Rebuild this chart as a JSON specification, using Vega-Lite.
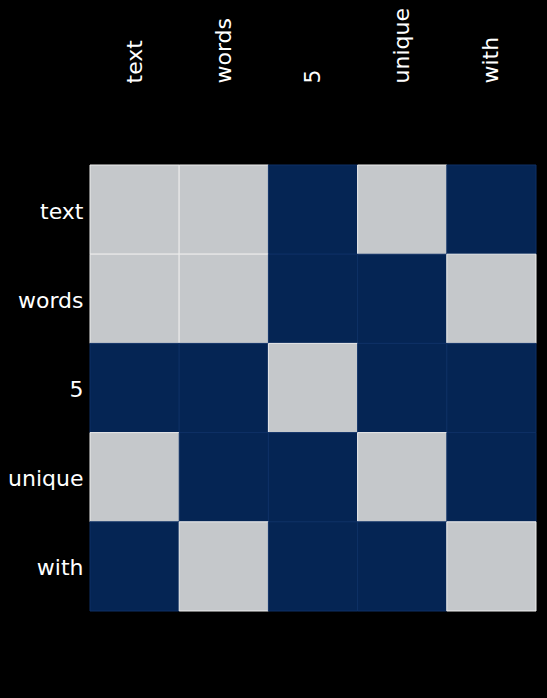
{
  "$schema": "https://vega.github.io/schema/vega-lite/v6.json",
  "background": "#000000",
  "autosize": "none",
  "padding": {"left": 90, "top": 165, "right": 11, "bottom": 87},
  "width": 446,
  "height": 446,
  "config": {"view": {"stroke": null}},
  "data": {
    "values": [
      {"row": "text", "col": "text", "v": 1},
      {"row": "text", "col": "words", "v": 1},
      {"row": "text", "col": "5", "v": 0},
      {"row": "text", "col": "unique", "v": 1},
      {"row": "text", "col": "with", "v": 0},
      {"row": "words", "col": "text", "v": 1},
      {"row": "words", "col": "words", "v": 1},
      {"row": "words", "col": "5", "v": 0},
      {"row": "words", "col": "unique", "v": 0},
      {"row": "words", "col": "with", "v": 1},
      {"row": "5", "col": "text", "v": 0},
      {"row": "5", "col": "words", "v": 0},
      {"row": "5", "col": "5", "v": 1},
      {"row": "5", "col": "unique", "v": 0},
      {"row": "5", "col": "with", "v": 0},
      {"row": "unique", "col": "text", "v": 1},
      {"row": "unique", "col": "words", "v": 0},
      {"row": "unique", "col": "5", "v": 0},
      {"row": "unique", "col": "unique", "v": 1},
      {"row": "unique", "col": "with", "v": 0},
      {"row": "with", "col": "text", "v": 0},
      {"row": "with", "col": "words", "v": 1},
      {"row": "with", "col": "5", "v": 0},
      {"row": "with", "col": "unique", "v": 0},
      {"row": "with", "col": "with", "v": 1}
    ]
  },
  "mark": {"type": "rect", "strokeWidth": 1},
  "encoding": {
    "x": {
      "field": "col", "type": "nominal",
      "sort": ["text", "words", "5", "unique", "with"],
      "scale": {"paddingInner": 0, "paddingOuter": 0},
      "axis": {
        "orient": "top", "title": null, "domain": false, "ticks": false,
        "labelAngle": -90, "labelAlign": "left", "labelBaseline": "middle",
        "labelPadding": 82, "labelFont": "DejaVu Sans", "labelFontSize": 22,
        "labelColor": "#ffffff"
      }
    },
    "y": {
      "field": "row", "type": "nominal",
      "sort": ["text", "words", "5", "unique", "with"],
      "scale": {"paddingInner": 0, "paddingOuter": 0},
      "axis": {
        "title": null, "domain": false, "ticks": false,
        "labelPadding": 7, "labelFont": "DejaVu Sans", "labelFontSize": 22,
        "labelColor": "#ffffff", "labelOffset": 2
      }
    },
    "color": {
      "field": "v", "type": "nominal",
      "scale": {"domain": [0, 1], "range": ["#052554", "#c5c8cb"]},
      "legend": null
    },
    "stroke": {
      "field": "v", "type": "nominal",
      "scale": {"domain": [0, 1], "range": ["#0f3166", "#eeeeee"]},
      "legend": null
    }
  }
}
